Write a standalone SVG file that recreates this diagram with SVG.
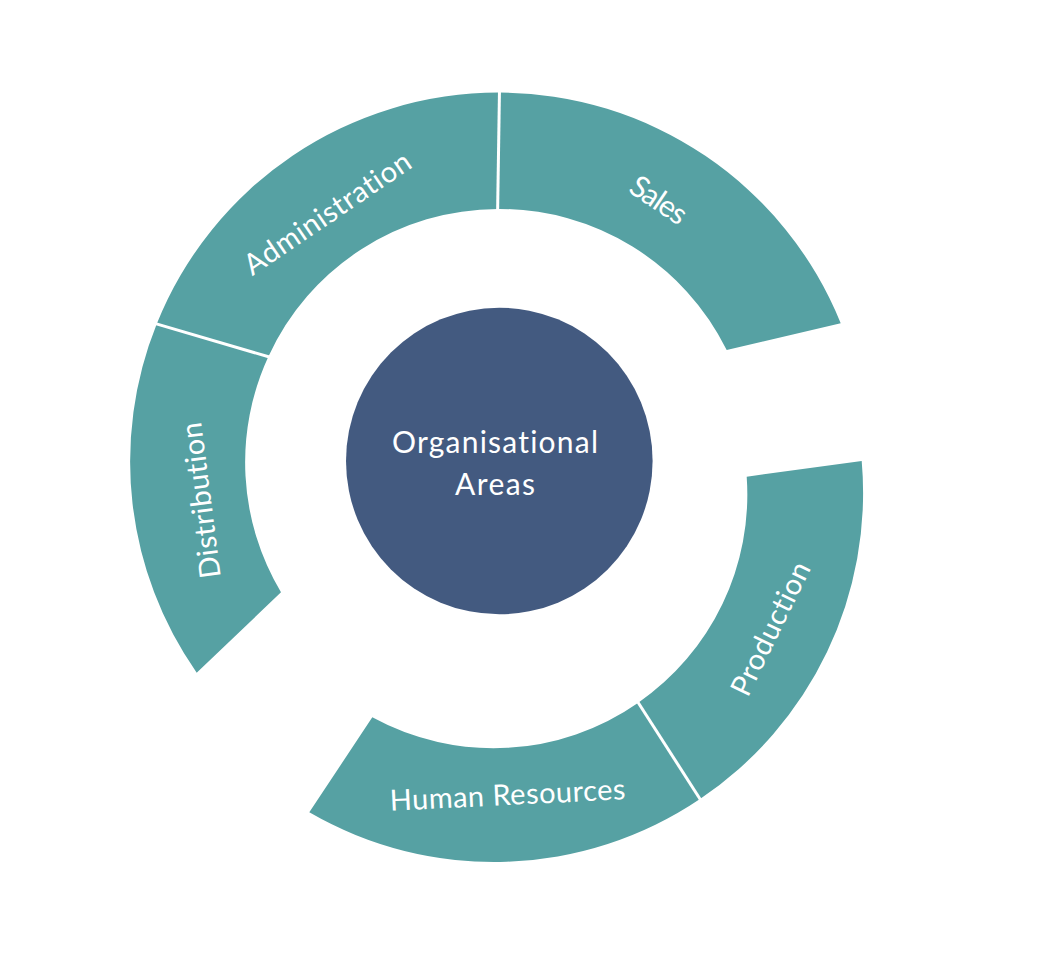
<svg xmlns="http://www.w3.org/2000/svg" width="1041" height="971" viewBox="0 0 1041 971">
<style>
.seg{fill:#56A1A3;}
.div{stroke:#FFFFFF;stroke-width:3;fill:none;}
.lbl{font-family:Lato,"Liberation Sans",sans-serif;font-size:29px;fill:#FFFFFF;text-anchor:middle;font-variant-ligatures:none;font-feature-settings:"liga" 0,"clig" 0;}
.ctr{font-family:Lato,"Liberation Sans",sans-serif;font-size:30px;fill:#FFFFFF;text-anchor:middle;font-variant-ligatures:none;font-feature-settings:"liga" 0,"clig" 0;}
</style>
<rect width="1041" height="971" fill="#FFFFFF"/>
<g id="sales">
<path class="seg" d="M499.4,92.6 A368.5,368.5 0 0 1 840.7,323.3 L726.7,350 A253,253 0 0 0 497.7,209 Z"/>
<text class="lbl" style="font-size:30px" transform="translate(653,208.6) rotate(34)" textLength="62" lengthAdjust="spacing">Sales</text>
</g>
<g id="administration">
<path class="seg" d="M156.7,324 A368.5,368.5 0 0 1 499.4,92.6 L497.7,209 A253,253 0 0 0 268.3,356.7 Z"/>
<text class="lbl" transform="translate(333,221.5) rotate(-34.2)" textLength="195" lengthAdjust="spacing">Administration</text>
</g>
<g id="distribution">
<path class="seg" d="M196.7,672.7 A368.5,368.5 0 0 1 156.7,324 L268.3,356.7 A253,253 0 0 0 281,592.3 Z"/>
<text class="lbl" transform="translate(210.9,499.2) rotate(-97.2)" textLength="157" lengthAdjust="spacing">Distribution</text>
</g>
<g id="production">
<path class="seg" d="M861.7,461 A368.5,368.5 0 0 1 700,799 L638.3,702.7 A253,253 0 0 0 746.7,476.7 Z"/>
<text class="lbl" transform="translate(779.5,633) rotate(-64)" textLength="145" lengthAdjust="spacing">Production</text>
</g>
<g id="human-resources">
<path class="seg" d="M700,799 A368.5,368.5 0 0 1 309.3,812.3 L372.3,717.3 A253,253 0 0 0 638.3,702.7 Z"/>
<text class="lbl" transform="translate(508,805) rotate(-2.8)" textLength="236" lengthAdjust="spacing">Human Resources</text>
</g>
<g id="dividers">
<line class="div" x1="499.5" y1="89" x2="497.6" y2="212"/>
<line class="div" x1="153" y1="322.9" x2="272" y2="357.8"/>
<line class="div" x1="636.7" y1="700.2" x2="701.6" y2="801.5"/>
</g>
<g id="center">
<circle cx="499.3" cy="461" r="153.3" fill="#435A80"/>
<text class="ctr" x="495" y="452.7" textLength="206" lengthAdjust="spacing">Organisational</text>
<text class="ctr" x="495" y="495" textLength="80" lengthAdjust="spacing">Areas</text>
</g>
</svg>
